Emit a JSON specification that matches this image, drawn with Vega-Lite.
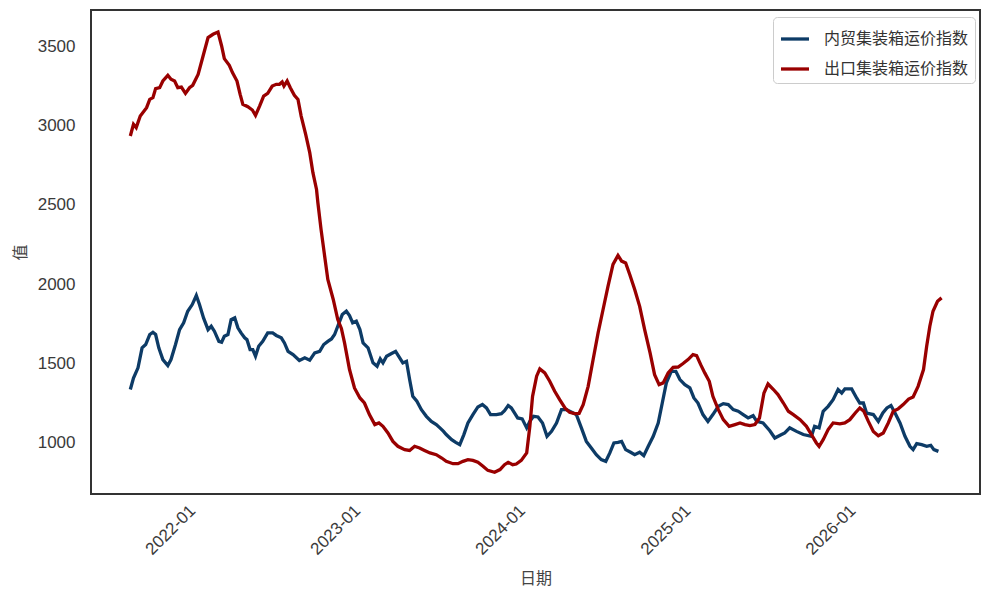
{
  "$schema": "https://vega.github.io/schema/vega-lite/v6.json",
  "width": 889,
  "height": 484,
  "autosize": {"type": "none"},
  "padding": {"left": 91, "top": 10, "right": 13, "bottom": 102},
  "background": "white",
  "config": {
    "view": {"stroke": "#333333", "strokeWidth": 2},
    "axis": {
      "grid": false,
      "ticks": false,
      "domain": false,
      "labelFont": "Liberation Sans",
      "labelFontSize": 17,
      "labelColor": "#3a3a3a",
      "titleFont": "Noto Sans CJK SC",
      "titleFontSize": 16,
      "titleFontWeight": "normal",
      "titleColor": "#444444"
    },
    "legend": {
      "labelFont": "Noto Sans CJK SC",
      "labelFontSize": 16,
      "labelColor": "#333333"
    }
  },
  "datasets": {
    "export": [
      {"d": "2021-08-16", "v": 2934}, {"d": "2021-08-23", "v": 3008}, {"d": "2021-08-29", "v": 2987},
      {"d": "2021-09-07", "v": 3060}, {"d": "2021-09-21", "v": 3113}, {"d": "2021-09-28", "v": 3165},
      {"d": "2021-10-05", "v": 3176}, {"d": "2021-10-11", "v": 3233}, {"d": "2021-10-20", "v": 3239},
      {"d": "2021-10-27", "v": 3281}, {"d": "2021-11-07", "v": 3317}, {"d": "2021-11-14", "v": 3292},
      {"d": "2021-11-22", "v": 3281}, {"d": "2021-11-29", "v": 3239}, {"d": "2021-12-07", "v": 3243},
      {"d": "2021-12-16", "v": 3203}, {"d": "2021-12-25", "v": 3239}, {"d": "2022-01-01", "v": 3254},
      {"d": "2022-01-13", "v": 3323}, {"d": "2022-01-24", "v": 3439}, {"d": "2022-02-04", "v": 3555},
      {"d": "2022-02-15", "v": 3576}, {"d": "2022-02-26", "v": 3590}, {"d": "2022-03-06", "v": 3502},
      {"d": "2022-03-12", "v": 3422}, {"d": "2022-03-23", "v": 3380}, {"d": "2022-03-30", "v": 3334},
      {"d": "2022-04-09", "v": 3281}, {"d": "2022-04-16", "v": 3197}, {"d": "2022-04-22", "v": 3134},
      {"d": "2022-05-03", "v": 3119}, {"d": "2022-05-13", "v": 3098}, {"d": "2022-05-20", "v": 3064},
      {"d": "2022-05-29", "v": 3123}, {"d": "2022-06-07", "v": 3186}, {"d": "2022-06-16", "v": 3203},
      {"d": "2022-06-26", "v": 3249}, {"d": "2022-07-05", "v": 3260}, {"d": "2022-07-12", "v": 3260},
      {"d": "2022-07-18", "v": 3275}, {"d": "2022-07-22", "v": 3249}, {"d": "2022-07-29", "v": 3281},
      {"d": "2022-08-05", "v": 3239}, {"d": "2022-08-14", "v": 3191}, {"d": "2022-08-22", "v": 3165},
      {"d": "2022-08-29", "v": 3060}, {"d": "2022-09-08", "v": 2944}, {"d": "2022-09-17", "v": 2829},
      {"d": "2022-09-24", "v": 2703}, {"d": "2022-10-02", "v": 2597}, {"d": "2022-10-05", "v": 2513},
      {"d": "2022-10-12", "v": 2345}, {"d": "2022-10-20", "v": 2176}, {"d": "2022-10-27", "v": 2029},
      {"d": "2022-11-08", "v": 1903}, {"d": "2022-11-18", "v": 1776}, {"d": "2022-11-26", "v": 1720},
      {"d": "2022-12-03", "v": 1629}, {"d": "2022-12-14", "v": 1461}, {"d": "2022-12-25", "v": 1345},
      {"d": "2023-01-06", "v": 1282}, {"d": "2023-01-16", "v": 1250}, {"d": "2023-01-27", "v": 1177},
      {"d": "2023-02-08", "v": 1114}, {"d": "2023-02-17", "v": 1124}, {"d": "2023-02-26", "v": 1103},
      {"d": "2023-03-09", "v": 1061}, {"d": "2023-03-20", "v": 1008}, {"d": "2023-03-31", "v": 977},
      {"d": "2023-04-15", "v": 956}, {"d": "2023-04-26", "v": 951}, {"d": "2023-05-07", "v": 977},
      {"d": "2023-05-18", "v": 966}, {"d": "2023-05-29", "v": 951}, {"d": "2023-06-10", "v": 935},
      {"d": "2023-06-24", "v": 924}, {"d": "2023-07-06", "v": 903}, {"d": "2023-07-16", "v": 882},
      {"d": "2023-07-31", "v": 867}, {"d": "2023-08-11", "v": 867}, {"d": "2023-08-22", "v": 882},
      {"d": "2023-09-02", "v": 893}, {"d": "2023-09-13", "v": 888}, {"d": "2023-09-24", "v": 876},
      {"d": "2023-10-06", "v": 850}, {"d": "2023-10-16", "v": 825}, {"d": "2023-10-31", "v": 813},
      {"d": "2023-11-12", "v": 830}, {"d": "2023-11-22", "v": 861}, {"d": "2023-11-30", "v": 876},
      {"d": "2023-12-10", "v": 861}, {"d": "2023-12-18", "v": 865}, {"d": "2023-12-29", "v": 888},
      {"d": "2024-01-10", "v": 935}, {"d": "2024-01-17", "v": 1103}, {"d": "2024-01-23", "v": 1292},
      {"d": "2024-02-01", "v": 1419}, {"d": "2024-02-08", "v": 1465}, {"d": "2024-02-19", "v": 1440},
      {"d": "2024-03-01", "v": 1387}, {"d": "2024-03-12", "v": 1324}, {"d": "2024-03-23", "v": 1271},
      {"d": "2024-04-04", "v": 1218}, {"d": "2024-04-14", "v": 1191}, {"d": "2024-04-25", "v": 1183},
      {"d": "2024-05-05", "v": 1185}, {"d": "2024-05-14", "v": 1240}, {"d": "2024-05-25", "v": 1355},
      {"d": "2024-06-05", "v": 1524}, {"d": "2024-06-16", "v": 1692}, {"d": "2024-06-27", "v": 1840},
      {"d": "2024-07-08", "v": 1987}, {"d": "2024-07-19", "v": 2124}, {"d": "2024-07-30", "v": 2181},
      {"d": "2024-08-07", "v": 2145}, {"d": "2024-08-16", "v": 2134}, {"d": "2024-08-25", "v": 2061},
      {"d": "2024-09-05", "v": 1966}, {"d": "2024-09-16", "v": 1860}, {"d": "2024-09-27", "v": 1713},
      {"d": "2024-10-09", "v": 1566}, {"d": "2024-10-19", "v": 1429}, {"d": "2024-10-29", "v": 1366},
      {"d": "2024-11-07", "v": 1377}, {"d": "2024-11-18", "v": 1440}, {"d": "2024-11-29", "v": 1475},
      {"d": "2024-12-10", "v": 1477}, {"d": "2024-12-21", "v": 1499}, {"d": "2025-01-01", "v": 1524},
      {"d": "2025-01-12", "v": 1555}, {"d": "2025-01-20", "v": 1549}, {"d": "2025-01-29", "v": 1492},
      {"d": "2025-02-07", "v": 1440}, {"d": "2025-02-17", "v": 1387}, {"d": "2025-02-25", "v": 1292},
      {"d": "2025-03-09", "v": 1208}, {"d": "2025-03-20", "v": 1145}, {"d": "2025-04-02", "v": 1103},
      {"d": "2025-04-15", "v": 1114}, {"d": "2025-04-26", "v": 1124}, {"d": "2025-05-07", "v": 1114},
      {"d": "2025-05-18", "v": 1107}, {"d": "2025-05-29", "v": 1114}, {"d": "2025-06-08", "v": 1155},
      {"d": "2025-06-18", "v": 1313}, {"d": "2025-06-27", "v": 1370}, {"d": "2025-07-09", "v": 1335},
      {"d": "2025-07-19", "v": 1303}, {"d": "2025-07-31", "v": 1250}, {"d": "2025-08-11", "v": 1198},
      {"d": "2025-08-22", "v": 1177}, {"d": "2025-09-06", "v": 1145}, {"d": "2025-09-20", "v": 1103},
      {"d": "2025-10-01", "v": 1051}, {"d": "2025-10-12", "v": 998}, {"d": "2025-10-18", "v": 977},
      {"d": "2025-10-27", "v": 1019}, {"d": "2025-11-07", "v": 1082}, {"d": "2025-11-18", "v": 1124},
      {"d": "2025-12-03", "v": 1119}, {"d": "2025-12-14", "v": 1124}, {"d": "2025-12-25", "v": 1145},
      {"d": "2026-01-06", "v": 1187}, {"d": "2026-01-16", "v": 1219}, {"d": "2026-01-25", "v": 1198},
      {"d": "2026-02-04", "v": 1134}, {"d": "2026-02-15", "v": 1071}, {"d": "2026-02-26", "v": 1044},
      {"d": "2026-03-09", "v": 1061}, {"d": "2026-03-20", "v": 1124}, {"d": "2026-03-31", "v": 1198},
      {"d": "2026-04-11", "v": 1213}, {"d": "2026-04-22", "v": 1240}, {"d": "2026-05-04", "v": 1275},
      {"d": "2026-05-14", "v": 1288}, {"d": "2026-05-25", "v": 1355}, {"d": "2026-06-06", "v": 1461},
      {"d": "2026-06-13", "v": 1608}, {"d": "2026-06-20", "v": 1734}, {"d": "2026-06-27", "v": 1829},
      {"d": "2026-07-07", "v": 1892}, {"d": "2026-07-16", "v": 1913}
    ],
    "domestic": [
      {"d": "2021-08-16", "v": 1335}, {"d": "2021-08-23", "v": 1408}, {"d": "2021-09-02", "v": 1472},
      {"d": "2021-09-11", "v": 1598}, {"d": "2021-09-19", "v": 1619}, {"d": "2021-09-28", "v": 1682},
      {"d": "2021-10-05", "v": 1696}, {"d": "2021-10-11", "v": 1682}, {"d": "2021-10-18", "v": 1598},
      {"d": "2021-10-27", "v": 1524}, {"d": "2021-11-07", "v": 1486}, {"d": "2021-11-14", "v": 1524},
      {"d": "2021-11-24", "v": 1619}, {"d": "2021-12-03", "v": 1713}, {"d": "2021-12-12", "v": 1756},
      {"d": "2021-12-21", "v": 1829}, {"d": "2021-12-31", "v": 1871}, {"d": "2022-01-09", "v": 1928},
      {"d": "2022-01-16", "v": 1871}, {"d": "2022-01-25", "v": 1787}, {"d": "2022-02-04", "v": 1713},
      {"d": "2022-02-11", "v": 1734}, {"d": "2022-02-18", "v": 1703}, {"d": "2022-02-28", "v": 1639},
      {"d": "2022-03-06", "v": 1633}, {"d": "2022-03-12", "v": 1671}, {"d": "2022-03-20", "v": 1682},
      {"d": "2022-03-27", "v": 1776}, {"d": "2022-04-04", "v": 1787}, {"d": "2022-04-11", "v": 1724},
      {"d": "2022-04-18", "v": 1692}, {"d": "2022-04-26", "v": 1661}, {"d": "2022-05-01", "v": 1650},
      {"d": "2022-05-08", "v": 1587}, {"d": "2022-05-14", "v": 1587}, {"d": "2022-05-20", "v": 1545},
      {"d": "2022-05-27", "v": 1608}, {"d": "2022-06-05", "v": 1639}, {"d": "2022-06-16", "v": 1692},
      {"d": "2022-06-27", "v": 1692}, {"d": "2022-07-05", "v": 1676}, {"d": "2022-07-16", "v": 1661},
      {"d": "2022-07-23", "v": 1629}, {"d": "2022-07-31", "v": 1576}, {"d": "2022-08-11", "v": 1555},
      {"d": "2022-08-25", "v": 1518}, {"d": "2022-09-06", "v": 1535}, {"d": "2022-09-17", "v": 1520},
      {"d": "2022-09-28", "v": 1566}, {"d": "2022-10-09", "v": 1576}, {"d": "2022-10-18", "v": 1619},
      {"d": "2022-10-27", "v": 1639}, {"d": "2022-11-04", "v": 1654}, {"d": "2022-11-11", "v": 1682},
      {"d": "2022-11-18", "v": 1734}, {"d": "2022-11-28", "v": 1808}, {"d": "2022-12-07", "v": 1829},
      {"d": "2022-12-14", "v": 1802}, {"d": "2022-12-21", "v": 1756}, {"d": "2022-12-29", "v": 1766},
      {"d": "2023-01-06", "v": 1713}, {"d": "2023-01-13", "v": 1629}, {"d": "2023-01-24", "v": 1598},
      {"d": "2023-02-04", "v": 1503}, {"d": "2023-02-13", "v": 1482}, {"d": "2023-02-20", "v": 1528},
      {"d": "2023-02-26", "v": 1503}, {"d": "2023-03-06", "v": 1545}, {"d": "2023-03-17", "v": 1562},
      {"d": "2023-03-26", "v": 1576}, {"d": "2023-04-04", "v": 1535}, {"d": "2023-04-11", "v": 1503},
      {"d": "2023-04-19", "v": 1513}, {"d": "2023-04-26", "v": 1398}, {"d": "2023-05-03", "v": 1292},
      {"d": "2023-05-12", "v": 1261}, {"d": "2023-05-22", "v": 1208}, {"d": "2023-06-02", "v": 1166},
      {"d": "2023-06-13", "v": 1134}, {"d": "2023-06-24", "v": 1114}, {"d": "2023-07-02", "v": 1093},
      {"d": "2023-07-10", "v": 1071}, {"d": "2023-07-16", "v": 1051}, {"d": "2023-07-28", "v": 1019},
      {"d": "2023-08-06", "v": 1002}, {"d": "2023-08-15", "v": 987}, {"d": "2023-08-24", "v": 1051},
      {"d": "2023-09-02", "v": 1124}, {"d": "2023-09-13", "v": 1177}, {"d": "2023-09-24", "v": 1225},
      {"d": "2023-10-04", "v": 1240}, {"d": "2023-10-13", "v": 1219}, {"d": "2023-10-22", "v": 1177},
      {"d": "2023-11-04", "v": 1177}, {"d": "2023-11-15", "v": 1183}, {"d": "2023-11-22", "v": 1202},
      {"d": "2023-11-30", "v": 1234}, {"d": "2023-12-07", "v": 1219}, {"d": "2023-12-14", "v": 1187},
      {"d": "2023-12-21", "v": 1156}, {"d": "2023-12-31", "v": 1150}, {"d": "2024-01-10", "v": 1093},
      {"d": "2024-01-17", "v": 1134}, {"d": "2024-01-25", "v": 1166}, {"d": "2024-02-04", "v": 1162},
      {"d": "2024-02-14", "v": 1124}, {"d": "2024-02-24", "v": 1040}, {"d": "2024-03-05", "v": 1071},
      {"d": "2024-03-16", "v": 1124}, {"d": "2024-03-27", "v": 1208}, {"d": "2024-04-07", "v": 1208},
      {"d": "2024-04-22", "v": 1187}, {"d": "2024-04-29", "v": 1177}, {"d": "2024-05-10", "v": 1093},
      {"d": "2024-05-21", "v": 1008}, {"d": "2024-06-01", "v": 966}, {"d": "2024-06-12", "v": 924},
      {"d": "2024-06-23", "v": 893}, {"d": "2024-07-03", "v": 882}, {"d": "2024-07-12", "v": 935},
      {"d": "2024-07-21", "v": 998}, {"d": "2024-07-30", "v": 1002}, {"d": "2024-08-07", "v": 1008},
      {"d": "2024-08-16", "v": 956}, {"d": "2024-08-27", "v": 939}, {"d": "2024-09-05", "v": 924},
      {"d": "2024-09-16", "v": 939}, {"d": "2024-09-25", "v": 918}, {"d": "2024-10-05", "v": 977},
      {"d": "2024-10-16", "v": 1040}, {"d": "2024-10-27", "v": 1124}, {"d": "2024-11-05", "v": 1250},
      {"d": "2024-11-14", "v": 1377}, {"d": "2024-11-25", "v": 1450}, {"d": "2024-12-05", "v": 1450},
      {"d": "2024-12-14", "v": 1398}, {"d": "2024-12-25", "v": 1366}, {"d": "2025-01-05", "v": 1345},
      {"d": "2025-01-14", "v": 1282}, {"d": "2025-01-23", "v": 1250}, {"d": "2025-02-03", "v": 1177},
      {"d": "2025-02-14", "v": 1134}, {"d": "2025-02-25", "v": 1177}, {"d": "2025-03-09", "v": 1229},
      {"d": "2025-03-20", "v": 1246}, {"d": "2025-03-31", "v": 1240}, {"d": "2025-04-11", "v": 1208},
      {"d": "2025-04-22", "v": 1198}, {"d": "2025-05-03", "v": 1177}, {"d": "2025-05-14", "v": 1156},
      {"d": "2025-05-25", "v": 1170}, {"d": "2025-06-02", "v": 1134}, {"d": "2025-06-16", "v": 1124},
      {"d": "2025-07-01", "v": 1075}, {"d": "2025-07-12", "v": 1029}, {"d": "2025-07-27", "v": 1051},
      {"d": "2025-08-03", "v": 1061}, {"d": "2025-08-14", "v": 1093}, {"d": "2025-08-29", "v": 1071},
      {"d": "2025-09-13", "v": 1051}, {"d": "2025-10-01", "v": 1040}, {"d": "2025-10-08", "v": 1103},
      {"d": "2025-10-18", "v": 1093}, {"d": "2025-10-27", "v": 1198}, {"d": "2025-11-07", "v": 1229},
      {"d": "2025-11-18", "v": 1271}, {"d": "2025-11-29", "v": 1335}, {"d": "2025-12-07", "v": 1313},
      {"d": "2025-12-14", "v": 1339}, {"d": "2025-12-29", "v": 1339}, {"d": "2026-01-09", "v": 1282},
      {"d": "2026-01-16", "v": 1250}, {"d": "2026-01-24", "v": 1250}, {"d": "2026-01-31", "v": 1187},
      {"d": "2026-02-15", "v": 1177}, {"d": "2026-02-26", "v": 1134}, {"d": "2026-03-08", "v": 1187},
      {"d": "2026-03-17", "v": 1219}, {"d": "2026-03-26", "v": 1234}, {"d": "2026-04-04", "v": 1187},
      {"d": "2026-04-15", "v": 1124}, {"d": "2026-04-26", "v": 1040}, {"d": "2026-05-07", "v": 977},
      {"d": "2026-05-14", "v": 956}, {"d": "2026-05-22", "v": 994}, {"d": "2026-06-02", "v": 987},
      {"d": "2026-06-13", "v": 977}, {"d": "2026-06-22", "v": 983}, {"d": "2026-06-29", "v": 956},
      {"d": "2026-07-09", "v": 945}
    ]
  },
  "encoding": {
    "x": {
      "field": "d",
      "type": "temporal",
      "title": "日期",
      "scale": {
        "type": "utc",
        "domain": [
          {"year": 2021, "month": 5, "date": 21, "utc": true},
          {"year": 2026, "month": 10, "date": 9, "utc": true}
        ]
      },
      "axis": {
        "values": [
          {"year": 2022, "month": 1, "date": 1, "utc": true},
          {"year": 2023, "month": 1, "date": 1, "utc": true},
          {"year": 2024, "month": 1, "date": 1, "utc": true},
          {"year": 2025, "month": 1, "date": 1, "utc": true},
          {"year": 2026, "month": 1, "date": 1, "utc": true}
        ],
        "labelExpr": "utcFormat(datum.value, '%Y-%m')",
        "labelAngle": -45,
        "labelAlign": "right",
        "labelBaseline": "top",
        "labelOffset": -6,
        "labelPadding": 8,
        "titlePadding": 13
      }
    },
    "y": {
      "field": "v",
      "type": "quantitative",
      "title": "值",
      "scale": {"domain": [676, 3729], "nice": false, "zero": false},
      "axis": {
        "values": [1000, 1500, 2000, 2500, 3000, 3500],
        "format": "d",
        "labelPadding": 16,
        "titlePadding": 9,
        "titleAngle": -90
      }
    },
    "color": {
      "type": "nominal",
      "scale": {
        "domain": ["内贸集装箱运价指数", "出口集装箱运价指数"],
        "range": ["#0d3b66", "#990000"]
      },
      "legend": {
        "title": null,
        "orient": "none",
        "legendX": 682,
        "legendY": 7,
        "symbolType": "stroke",
        "symbolStrokeWidth": 3.3,
        "symbolSize": 784,
        "labelOffset": 13,
        "rowPadding": 6,
        "padding": 6,
        "strokeColor": "#cccccc",
        "cornerRadius": 4,
        "fillColor": "white"
      }
    }
  },
  "layer": [
    {
      "data": {"name": "domestic"},
      "mark": {"type": "line", "strokeWidth": 3.3},
      "encoding": {"color": {"datum": "内贸集装箱运价指数"}}
    },
    {
      "data": {"name": "export"},
      "mark": {"type": "line", "strokeWidth": 3.3},
      "encoding": {"color": {"datum": "出口集装箱运价指数"}}
    }
  ]
}
